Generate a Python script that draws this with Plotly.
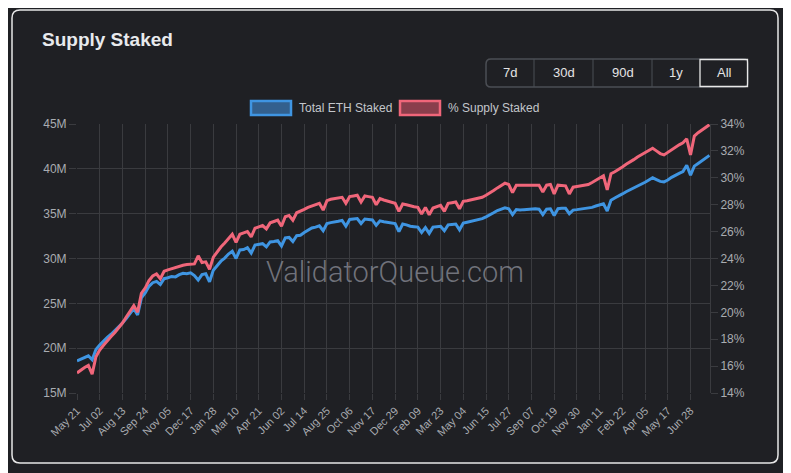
import pandas as pd
import plotly.graph_objects as go

# weekly samples
week_start = "2023-05-21"
n_weeks = 168

total_eth_staked_m = [
    18.57, 18.75, 18.95, 19.15, 18.7, 19.85, 20.35, 20.8, 21.2, 21.55,
    21.95, 22.35, 22.8, 23.3, 23.9, 24.4, 23.7, 25.6, 26.15, 26.9,
    27.3, 27.45, 27.1, 27.75, 27.85, 28.0, 27.95, 28.2, 28.35, 28.3,
    28.4, 28.1, 27.6, 28.2, 28.3, 27.4, 28.7, 29.2, 29.7, 30.05,
    30.5, 30.8, 30.0, 30.95, 31.0, 31.2, 30.6, 31.5, 31.55, 31.65,
    31.3, 31.85, 31.9, 32.0, 31.4, 32.3, 32.35, 31.9, 32.55, 32.6,
    32.9, 33.2, 33.4, 33.5, 33.65, 33.1, 33.9, 34.0, 34.05, 34.15,
    34.25, 33.6, 34.35, 34.4, 34.45, 33.9, 34.4, 34.35, 34.3, 33.7,
    34.2, 34.1, 34.05, 33.95, 33.9, 33.0, 33.85, 33.75, 33.6, 33.55,
    33.5, 32.9, 33.45, 32.8, 33.5, 33.55, 33.6, 33.1, 33.75, 33.8,
    33.85, 33.2, 33.95, 34.05, 34.15, 34.2, 34.3, 34.45, 34.65, 34.85,
    35.1, 35.35, 35.5, 35.65, 35.55, 34.9, 35.45, 35.4, 35.45, 35.5,
    35.5, 35.55, 35.5, 34.9, 35.5, 35.55, 34.8, 35.55, 35.6, 35.6,
    35.0, 35.4, 35.45, 35.5, 35.55, 35.6, 35.7, 35.85, 35.95, 36.1,
    35.3, 36.5, 36.75, 36.95, 37.2, 37.45, 37.65, 37.85, 38.1, 38.3,
    38.5, 38.75, 39.0, 38.8, 38.6, 38.55, 38.75, 39.05, 39.3, 39.5,
    39.7, 40.4, 39.3, 40.3, 40.6, 40.9, 41.2, 41.5,
]

supply_staked_pct = [
    15.49, 15.7, 15.9, 16.05, 15.4, 16.7, 17.2, 17.55, 17.9, 18.2,
    18.5, 18.85, 19.2, 19.65, 20.1, 20.5, 20.0, 21.4, 21.8, 22.35,
    22.7, 22.85, 22.5, 23.05, 23.15, 23.25, 23.3, 23.45, 23.5, 23.55,
    23.6, 23.6, 24.2, 23.7, 23.75, 23.2, 24.1, 24.5, 24.85, 25.15,
    25.45, 25.8, 25.2, 25.8, 25.9, 26.0, 25.6, 26.25, 26.35, 26.45,
    26.2, 26.65, 26.75, 26.85, 26.4, 27.1, 27.2, 26.85, 27.4, 27.5,
    27.65, 27.8, 27.9, 28.0, 28.1, 27.6, 28.3, 28.4, 28.45, 28.5,
    28.55, 28.1, 28.6, 28.65, 28.7, 28.2, 28.65, 28.6, 28.55, 28.0,
    28.45, 28.35, 28.25, 28.15, 28.1, 27.5, 28.05, 28.0, 27.9, 27.85,
    27.8, 27.3, 27.8, 27.25, 27.75, 27.85, 27.95, 27.5, 28.1, 28.15,
    28.2, 27.7, 28.25, 28.3, 28.35, 28.4, 28.45, 28.55, 28.7, 28.85,
    29.05, 29.25, 29.45, 29.6, 29.5, 28.9, 29.45, 29.45, 29.5, 29.5,
    29.45, 29.5, 29.45, 28.95, 29.45, 29.5, 28.8, 29.45, 29.4, 29.4,
    28.8, 29.3, 29.35, 29.4, 29.45, 29.5, 29.65, 29.8, 30.0, 30.15,
    29.1, 30.3, 30.45, 30.6, 30.8, 31.0, 31.15, 31.35, 31.55, 31.7,
    31.85, 32.05, 32.2, 32.0, 31.8, 31.7, 31.9, 32.1, 32.3, 32.45,
    32.6, 32.9, 31.7, 33.1, 33.35, 33.55, 33.75, 33.95,
]

range_buttons = ["7d", "30d", "90d", "1y", "All"]

dates = pd.date_range(week_start, periods=n_weeks, freq="7D")

# the page puts the plot 8px in from the top-left corner
W, H = 783, 465
L, R, T, B = 69, 81, 116, 80
pw, ph = W - L - R, H - T - B

# positions below are given as pixels in the 791x473 screenshot
def fx(x):
    return (x - 77) / pw

def fy(y):
    return (393 - y) / ph

bg = "#1f2024"
grid = "#3a3b3f"
tick_col = "#a9acb1"
blue = "#3f95e2"
red = "#f0667a"

fig = go.Figure()
fig.add_trace(go.Scatter(x=dates, y=supply_staked_pct, name="% Supply Staked", yaxis="y2",
                         mode="lines", line=dict(color=red, width=3)))
fig.add_trace(go.Scatter(x=dates, y=total_eth_staked_m, name="Total ETH Staked",
                         mode="lines", line=dict(color=blue, width=3)))

shapes = []
# card outline with rounded corners
x0, x1, y0, y1 = fx(12), fx(778), fy(463), fy(10)
rx, ry = 8 / pw, 8 / ph
shapes.append(dict(
    type="path", xref="paper", yref="paper", layer="below",
    path=(f"M {x0+rx},{y1} L {x1-rx},{y1} Q {x1},{y1} {x1},{y1-ry} L {x1},{y0+ry} "
          f"Q {x1},{y0} {x1-rx},{y0} L {x0+rx},{y0} Q {x0},{y0} {x0},{y0+ry} "
          f"L {x0},{y1-ry} Q {x0},{y1} {x0+rx},{y1} Z"),
    line=dict(color="#e6e6e6", width=1.5)))

# range button group
bx = [486, 534, 593, 652, 700, 748]
bx0, bx1, by0, by1 = fx(486), fx(748), fy(87), fy(59)
rx, ry = 5 / pw, 5 / ph
shapes.append(dict(
    type="path", xref="paper", yref="paper",
    path=(f"M {bx0+rx},{by1} L {bx1-rx},{by1} Q {bx1},{by1} {bx1},{by1-ry} L {bx1},{by0+ry} "
          f"Q {bx1},{by0} {bx1-rx},{by0} L {bx0+rx},{by0} Q {bx0},{by0} {bx0},{by0+ry} "
          f"L {bx0},{by1-ry} Q {bx0},{by1} {bx0+rx},{by1} Z"),
    line=dict(color="#4b4e54", width=1.5)))
for xd in bx[1:-2]:
    shapes.append(dict(type="line", xref="paper", yref="paper", x0=fx(xd), x1=fx(xd),
                       y0=by0, y1=by1, line=dict(color="#4b4e54", width=1)))
shapes.append(dict(type="rect", xref="paper", yref="paper", x0=fx(700), x1=fx(747.5),
                   y0=fy(86.5), y1=fy(59.5), line=dict(color="#e8e8e8", width=1.3)))

# legend boxes
shapes.append(dict(type="rect", xref="paper", yref="paper", x0=fx(251), x1=fx(291),
                   y0=fy(115), y1=fy(101), fillcolor="#33608e",
                   line=dict(color=blue, width=2.5)))
shapes.append(dict(type="rect", xref="paper", yref="paper", x0=fx(400), x1=fx(440),
                   y0=fy(115), y1=fy(101), fillcolor="#8a3e4c",
                   line=dict(color=red, width=2.5)))

annotations = [
    dict(text="<b>Supply Staked</b>", x=fx(40), y=fy(39), xanchor="left", yanchor="middle",
         font=dict(size=19, color="#e8eaed")),
    dict(text="Total ETH Staked", x=fx(297), y=fy(108), xanchor="left", yanchor="middle",
         font=dict(size=12, color="#c3c6cb")),
    dict(text="% Supply Staked", x=fx(446), y=fy(108), xanchor="left", yanchor="middle",
         font=dict(size=12, color="#c3c6cb")),
    dict(text="ValidatorQueue.com", x=fx(395), y=fy(272), xanchor="center", yanchor="middle",
         font=dict(size=29, color="rgba(140,142,152,0.75)", family="Roboto", weight=300)),
]
for i, label in enumerate(range_buttons):
    annotations.append(dict(text=label, x=fx((bx[i] + bx[i + 1]) / 2), y=fy(73),
                            xanchor="center", yanchor="middle",
                            font=dict(size=13, color="#e4e4e4")))
for a in annotations:
    a.update(xref="paper", yref="paper", showarrow=False)

fig.update_layout(
    width=W, height=H,
    margin=dict(l=L, r=R, t=T, b=B),
    paper_bgcolor=bg, plot_bgcolor=bg,
    font=dict(family="Liberation Sans, Arial, sans-serif", color=tick_col),
    showlegend=False,
    shapes=shapes,
    annotations=annotations,
    xaxis=dict(type="date", range=["2023-05-21", "2026-08-03"],
               tick0="2023-05-21", dtick=42 * 86400000, tickformat="%b %d",
               tickangle=-45, tickfont=dict(size=11, color=tick_col),
               showgrid=True, gridcolor=grid, gridwidth=1,
               ticks="outside", ticklen=6, tickcolor=grid,
               showline=False, zeroline=False),
    yaxis=dict(range=[15, 45], dtick=5, ticksuffix="M",
               tickfont=dict(size=12, color=tick_col),
               showgrid=True, gridcolor=grid, gridwidth=1,
               ticks="outside", ticklen=7, tickcolor=grid,
               showline=False, zeroline=False),
    yaxis2=dict(range=[14, 34], dtick=2, ticksuffix="%", overlaying="y", side="right",
                tickfont=dict(size=12, color=tick_col), showgrid=False,
                ticks="outside", ticklen=7, tickcolor=grid,
                showline=True, linecolor=grid, linewidth=1, zeroline=False),
)

fig.write_html("out.html")
